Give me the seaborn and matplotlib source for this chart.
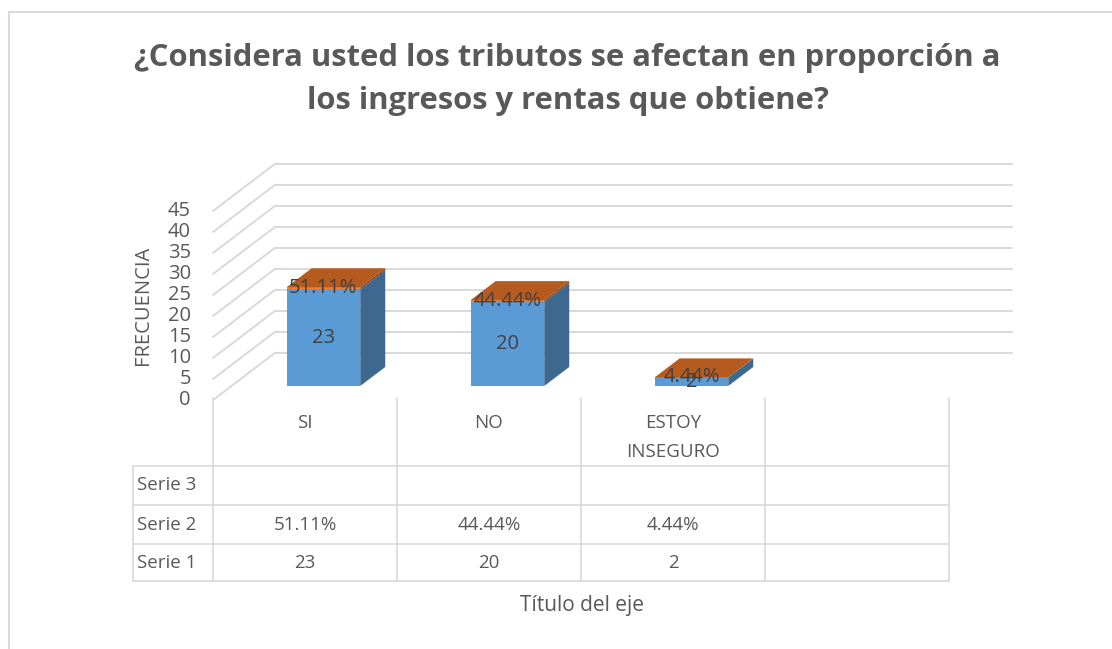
import matplotlib
matplotlib.use("Agg")
import matplotlib.pyplot as plt
import seaborn as sns
import pandas as pd
from matplotlib.patches import Polygon
from matplotlib.lines import Line2D
from matplotlib.transforms import Affine2D

# data
categories = ["SI", "NO", "ESTOY\nINSEGURO", ""]
serie1 = [23, 20, 2]
serie2 = [0.5111, 0.4444, 0.0444]
serie2_labels = ["51.11%", "44.44%", "4.44%"]
row_names = ["Serie 3", "Serie 2", "Serie 1"]
y_ticks = [0, 5, 10, 15, 20, 25, 30, 35, 40, 45]

title_lines = ["¿Considera usted los tributos se afectan en proporción a",
               "los ingresos y rentas que obtiene?"]
y_title = "FRECUENCIA"
x_title = "Título del eje"

# colours
FRONT = "#5b9bd5"
SIDE = "#3d6890"
TOP = "#b65b1f"
ORANGE_FRONT = "#ed7d31"
ORANGE_SIDE = "#8c4414"
GRID = "#d9d9d9"
TXT = "#595959"
LBL = "#404040"

sns.set_theme(style="white")
plt.rcParams["font.family"] = ["Open Sans", "DejaVu Sans"]

# layout (pixels of the 1112x649 picture)
W, H = 1112, 649
X0_PX, CAT_PX = 213, 184      # left edge of first category, width of a category
Y0_PX, UNIT_PX = 400, 4.2     # pixel row of value 0, pixels per unit
DX = 62.5 / CAT_PX            # depth offset of the back wall in x units
DY = 47.5 / UNIT_PX           # depth offset of the back wall in value units
Z0, Z1 = 0.295, 0.695         # bar depth range
BW = 0.4


def px2x(px):
    return (px - X0_PX) / CAT_PX - 0.5


def py2y(py):
    return (Y0_PX - py) / UNIT_PX


fig = plt.figure(figsize=(W / 100, H / 100), dpi=100)
ax = fig.add_axes([0, 0, 1, 1])

# walls: left diagonals and back gridlines
for v in y_ticks:
    ax.plot([-0.5, -0.5 + DX], [v, v + DY], color=GRID, lw=1.4, zorder=0)
    ax.plot([-0.5 + DX, 3.5 + DX], [v + DY, v + DY], color=GRID, lw=1.4, zorder=0)

# front faces of serie 1
df = pd.DataFrame({"cat": categories[:3], "val": serie1})
sns.barplot(data=df, x="cat", y="val", color=FRONT, saturation=1, width=BW,
            errorbar=None, ax=ax, zorder=3)
shift = Affine2D().translate(Z0 * DX, Z0 * DY) + ax.transData
for p in ax.patches:
    p.set_transform(shift)
    p.set_linewidth(0)

# front faces of serie 2 stacked on top
bars2 = ax.bar(range(3), serie2, bottom=serie1, width=BW, color=ORANGE_FRONT,
               linewidth=0, zorder=3)
for p in bars2:
    p.set_transform(shift)

# side and top faces
for i in range(3):
    xr = i + BW / 2
    xl = i - BW / 2
    top = serie1[i] + serie2[i]
    for lo, hi, col in [(0, serie1[i], SIDE), (serie1[i], top, ORANGE_SIDE)]:
        side = [(xr + Z0 * DX, lo + Z0 * DY), (xr + Z1 * DX, lo + Z1 * DY),
                (xr + Z1 * DX, hi + Z1 * DY), (xr + Z0 * DX, hi + Z0 * DY)]
        ax.add_patch(Polygon(side, closed=True, facecolor=col, lw=0, zorder=3))
    roof = [(xl + Z0 * DX, top + Z0 * DY), (xr + Z0 * DX, top + Z0 * DY),
            (xr + Z1 * DX, top + Z1 * DY), (xl + Z1 * DX, top + Z1 * DY)]
    ax.add_patch(Polygon(roof, closed=True, facecolor=TOP, lw=0, zorder=3))

    # data labels
    cx = i + Z0 * DX
    ax.text(cx, serie1[i] / 2 + Z0 * DY, str(serie1[i]), ha="center", va="center",
            fontsize=14.5, color=LBL, zorder=5)
    ax.text(cx, serie1[i] + serie2[i] / 2 + Z0 * DY, serie2_labels[i], ha="center",
            va="center", fontsize=14.5, color=LBL, zorder=5)

# value axis labels
for v in y_ticks:
    ax.text(px2x(191), v, str(v), ha="right", va="center", fontsize=14.5, color=TXT)
ax.text(px2x(143), py2y(305), y_title, rotation=90, ha="center", va="center",
        fontsize=14.5, color=TXT)

# data table
tbl_top, tbl_bot = py2y(398), py2y(581)
row_lines = [py2y(466), py2y(505), py2y(544), py2y(581)]
x_left = px2x(133)
for k in range(5):
    ax.plot([k - 0.5, k - 0.5], [tbl_top, tbl_bot], color=GRID, lw=1.2, zorder=1)
ax.plot([x_left, x_left], [row_lines[0], row_lines[-1]], color=GRID, lw=1.2, zorder=1)
for yl in row_lines:
    ax.plot([x_left, 3.5], [yl, yl], color=GRID, lw=1.2, zorder=1)

for i, c in enumerate(categories):
    ax.text(i, py2y(414), c, ha="center", va="top", fontsize=13.5, color=TXT,
            linespacing=1.8)

row_vals = [["", "", ""], serie2_labels, [str(v) for v in serie1]]
for r, name in enumerate(row_names):
    yc = (row_lines[r] + row_lines[r + 1]) / 2
    ax.text(px2x(137), yc, name, ha="left", va="center", fontsize=13.5, color=TXT)
    for i, val in enumerate(row_vals[r]):
        ax.text(i, yc, val, ha="center", va="center", fontsize=13.5, color=TXT)

ax.text(px2x(582), py2y(605), x_title, ha="center", va="center", fontsize=15, color=TXT)

ax.set_xlim(px2x(0), px2x(W))
ax.set_ylim(py2y(H), py2y(0))
ax.axis("off")

# title
fig.text(567 / W, 1 - 58 / H, title_lines[0], ha="center", va="center",
         fontsize=22.3, fontweight="bold", color=TXT)
fig.text(568 / W, 1 - 101 / H, title_lines[1], ha="center", va="center",
         fontsize=22.3, fontweight="bold", color=TXT)

# chart border
fig.add_artist(Line2D([9 / W, 9 / W], [0, 1 - 12 / H], color=GRID, lw=1.5))
fig.add_artist(Line2D([9 / W, 1], [1 - 12 / H, 1 - 12 / H], color=GRID, lw=1.5))

fig.savefig("out.png", dpi=100)
